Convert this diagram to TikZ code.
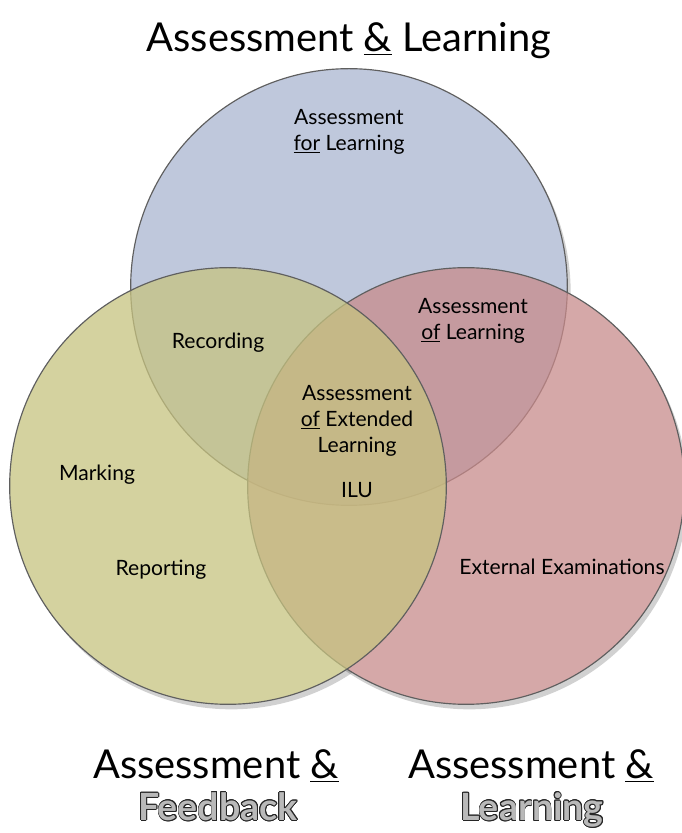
\documentclass[tikz,border=0pt]{standalone}
\usepackage{fontspec}
\setmainfont{Lato}
\usepackage{contour}
\contourlength{0.7pt}
\usetikzlibrary{calc}
\definecolor{vennblue}{RGB}{191,200,220}
\definecolor{vennyellow}{RGB}{198,195,128}
\definecolor{vennred}{RGB}{200,139,139}
\definecolor{ringgray}{RGB}{95,95,95}
\tikzstyle{ringline}=[draw=ringgray,line width=0.35mm]
\tikzstyle{shadowring}=[fill=black,fill opacity=0.18]
\tikzstyle{label}=[align=center,font=\fontsize{18}{22}\selectfont]
\tikzstyle{heading}=[anchor=base,font=\fontsize{34}{40}\selectfont]
\tikzstyle{outlined}=[anchor=base,font=\fontsize{32}{40}\selectfont\bfseries]
\begin{document}
\begin{tikzpicture}
    \useasboundingbox (0,0) rectangle (20.46,24.99);

    % Circle centres
    \coordinate (cblue) at (10.47,16.38);
    \coordinate (cyellow) at (6.84,10.41);
    \coordinate (cred) at (13.98,10.41);

    % Shadows and white ground
    \fill[shadowring] ($(cblue)+(0.1,-0.15)$) circle (6.55);
    \fill[shadowring] ($(cyellow)+(0.1,-0.15)$) circle (6.55);
    \fill[shadowring] ($(cred)+(0.1,-0.15)$) circle (6.55);
    \fill[white] (cblue) circle (6.55);
    \fill[white] (cyellow) circle (6.55);
    \fill[white] (cred) circle (6.55);

    % The three circles
    \draw[ringline,fill=vennblue] (cblue) circle (6.55);
    \draw[ringline,fill=vennred,fill opacity=0.75] (cred) circle (6.55);
    \draw[ringline,fill=vennyellow,fill opacity=0.75] (cyellow) circle (6.55);

    % Labels inside
    \node[label] (forlearning) at (10.47,21.03) {Assessment\\\underline{for} Learning};
    \node[label] (recording) at (6.54,14.70) {Recording};
    \node[label] (oflearning) at (14.19,15.36) {Assessment\\\underline{of} Learning};
    \node[label] (extended) at (10.71,12.36) {Assessment\\\underline{of} Extended\\Learning};
    \node[label] (ilu) at (10.71,10.29) {ILU};
    \node[label] (marking) at (2.91,10.74) {Marking};
    \node[label] (reporting) at (4.83,7.89) {Reporting};
    \node[label] (external) at (16.86,7.98) {External Examinations};

    % Headings
    \node[heading] (toptitle) at (10.47,23.43) {Assessment \underline{\&} Learning};
    \node[heading] (lefttitle) at (6.48,1.62) {Assessment \underline{\&}};
    \node[outlined] (feedback) at (6.54,0.38) {\contour{black!85}{\textcolor{gray!55}{Feedback}}};
    \node[heading] (righttitle) at (15.93,1.62) {Assessment \underline{\&}};
    \node[outlined] (learning) at (15.96,0.38) {\contour{black!85}{\textcolor{gray!55}{Learning}}};
\end{tikzpicture}
\end{document}
